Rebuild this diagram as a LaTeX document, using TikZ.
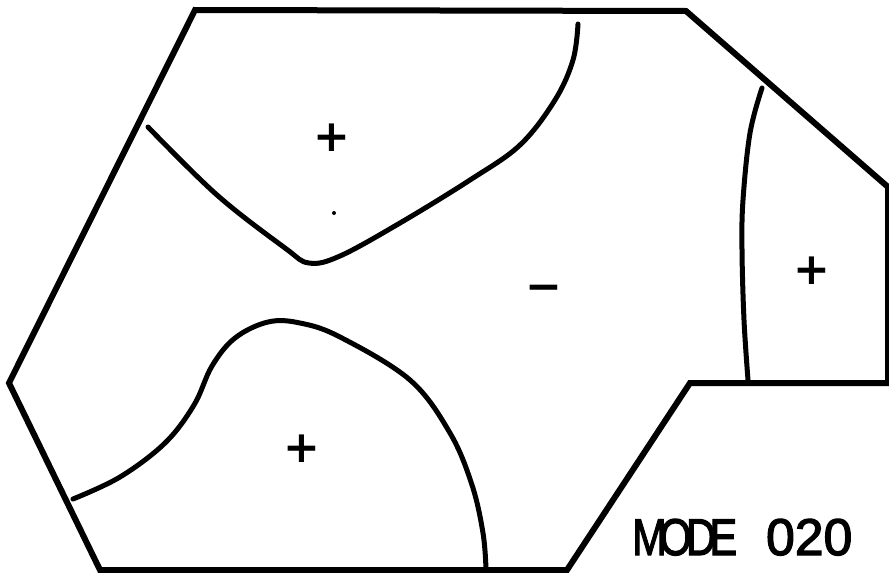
\documentclass[tikz,border=0pt]{standalone}
\usepackage{fontspec}
\setmainfont{Liberation Sans}
\newfontfamily\signfont{DejaVu Sans}
\newfontfamily\titlefont[FakeBold=2.5]{Liberation Sans}
\begin{document}
\begin{tikzpicture}[x=1pt,y=-1pt,
  outline/.style={line width=6pt,line join=miter},
  contour/.style={line width=5pt,line cap=round,line join=round},
  sign/.style={font=\signfont\bfseries\fontsize{44}{44}\selectfont,inner sep=0pt},
  title/.style={font=\titlefont\fontsize{51.7}{52}\selectfont,inner sep=0pt,anchor=base west}]
\useasboundingbox (0,0) rectangle (889,573);
% outline
\draw[outline] (195,10) -- (686,11) -- (888,187) -- (888,383) -- (690,383)
  -- (567,570) -- (100,570) -- (9,383) -- cycle;
% upper-left contour
\draw[contour] plot[smooth,tension=0.6] coordinates {(148,127) (217,195) (285,248) (309,263) (340,256) (400,223) (470,180) (520,145) (555,100) (573,60) (578,24)};
% lower contour
\draw[contour] plot[smooth,tension=0.6] coordinates {(73,499) (120,477) (165,443) (194,405) (212,366) (235,338) (268,322) (300,323) (340,337) (410,380) (450,433) (472,485) (483,533) (486,569)};
% right contour
\draw[contour] plot[smooth,tension=0.6] coordinates {(762,88) (750,133) (743,200) (742,250) (744,320) (748,380)};
% dot
\fill (334,213) circle (2);
% signs
\node[sign] (p1) at (332,138) {+};
\node[sign] (p2) at (302,449) {+};
\node[sign] (p3) at (812,271) {+};
\node[sign,anchor=base] (m1) at (544,301) {−};
% title
\node[title] (t) at (632,555) {\scalebox{0.8}[1]{M\kern-9pt O\kern-7pt D\kern-8pt E}\hspace{29pt}020};
\end{tikzpicture}
\end{document}
